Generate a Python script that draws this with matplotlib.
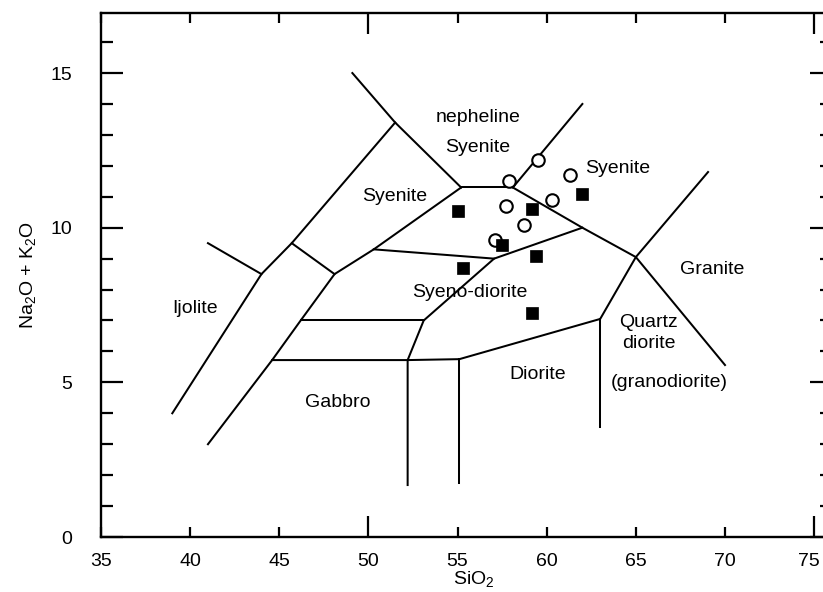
import matplotlib
matplotlib.use("Agg")
import matplotlib.pyplot as plt
from matplotlib.ticker import FixedLocator, FixedFormatter
from matplotlib.transforms import ScaledTranslation

plt.rcParams['font.family'] = ['Liberation Sans', 'DejaVu Sans']
plt.rcParams['mathtext.fontset'] = 'custom'
plt.rcParams['mathtext.rm'] = 'Liberation Sans'
plt.rcParams['mathtext.it'] = 'Liberation Sans:italic'

# Field boundaries of the plutonic TAS classification (SiO2, Na2O+K2O)
boundary_lines = [
    [(49.1, 15.0), (51.5, 13.4), (55.2, 11.3)],
    [(51.5, 13.4), (45.7, 9.5), (44.0, 8.5), (39.0, 4.0)],
    [(41.0, 9.5), (44.0, 8.5)],
    [(45.7, 9.5), (48.1, 8.5)],
    [(55.2, 11.3), (50.3, 9.3), (48.1, 8.5), (46.2, 7.0), (44.6, 5.72), (41.0, 3.0)],
    [(55.2, 11.3), (58.1, 11.3)],
    [(58.1, 11.3), (62.0, 14.0)],
    [(58.1, 11.3), (62.0, 10.0), (65.0, 9.05), (70.0, 5.56)],
    [(50.3, 9.3), (57.05, 9.0), (62.0, 10.0)],
    [(57.05, 9.0), (53.1, 7.0), (52.2, 5.72), (52.2, 1.68)],
    [(46.2, 7.0), (53.1, 7.0)],
    [(44.6, 5.72), (52.2, 5.72), (55.1, 5.75), (63.0, 7.05), (65.0, 9.05), (69.05, 11.8)],
    [(55.1, 5.75), (55.1, 1.75)],
    [(63.0, 7.05), (63.0, 3.55)],
]

# Field names and their positions
field_names = ["nepheline", "Syenite", "Syenite", "Syenite", "Syeno-diorite",
               "Granite", "Quartz", "diorite", "(granodiorite)", "Diorite",
               "Gabbro", "Ijolite"]
field_x = [56.15, 56.15, 64.0, 51.5, 55.7, 69.3, 65.7, 65.75, 66.9, 59.5, 48.3, 40.3]
field_y = [13.55, 12.6, 11.9, 11.0, 7.9, 8.65, 6.95, 6.27, 5.0, 5.24, 4.36, 7.4]

# Samples
circle_sio2 = [59.5, 57.9, 61.3, 57.7, 60.3, 58.7, 57.1]
circle_alk = [12.2, 11.5, 11.7, 10.7, 10.9, 10.1, 9.6]
square_sio2 = [55.0, 59.2, 62.0, 57.5, 59.4, 55.3, 59.2]
square_alk = [10.55, 10.6, 11.1, 9.45, 9.1, 8.7, 7.25]

# Axis ticks
x_major = [50, 75]
x_minor = [35, 40, 45, 55, 60, 65, 70]
y_major = [0, 5, 10, 15]
y_minor = [1, 2, 3, 4, 6, 7, 8, 9, 11, 12, 13, 14, 16]

fig = plt.figure(figsize=(8.23, 5.92), dpi=100)
ax = fig.add_axes([0.1227, 0.0929, 0.8882, 0.8856])
ax.set_xlim(35, 76)
ax.set_ylim(0, 16.95)

for line in boundary_lines:
    xs = [p[0] for p in line]
    ys = [p[1] for p in line]
    ax.plot(xs, ys, color='black', lw=1.45, solid_joinstyle='miter', zorder=2)

for name, x, y in zip(field_names, field_x, field_y):
    ax.text(x, y, name, ha='center', va='center', fontsize=14, zorder=3)

ax.plot(circle_sio2, circle_alk, linestyle='none', marker='o', ms=9,
        mfc='white', mec='black', mew=1.5, zorder=4)
ax.plot(square_sio2, square_alk, linestyle='none', marker='s', ms=8,
        mfc='black', mec='black', mew=0.5, zorder=5)

ax.xaxis.set_major_locator(FixedLocator(x_major))
ax.xaxis.set_major_formatter(FixedFormatter([str(v) for v in x_major]))
ax.xaxis.set_minor_locator(FixedLocator(x_minor))
ax.xaxis.set_minor_formatter(FixedFormatter([str(v) for v in x_minor]))
ax.yaxis.set_major_locator(FixedLocator(y_major))
ax.yaxis.set_major_formatter(FixedFormatter([str(v) for v in y_major]))
ax.yaxis.set_minor_locator(FixedLocator(y_minor))

ax.tick_params(axis='x', which='major', direction='in', length=15, width=1.6,
               top=True, bottom=True, labelsize=14, pad=11.5)
ax.tick_params(axis='x', which='minor', direction='in', length=7.5, width=1.6,
               top=True, bottom=True, labelsize=14, pad=11.5)
ax.tick_params(axis='y', which='major', direction='in', length=16, width=1.6,
               left=True, right=True, labelsize=14, pad=21)
ax.tick_params(axis='y', which='minor', direction='in', length=8.5, width=1.6,
               left=True, right=True)

for s in ax.spines.values():
    s.set_linewidth(1.7)

ax.set_xlabel(r'SiO$_\mathregular{2}$', fontsize=14)
ax.xaxis.set_label_coords(0.51, -0.081)
ax.xaxis.label.set_va('center')
ax.set_ylabel(r'Na$_\mathregular{2}$O + K$_\mathregular{2}$O', fontsize=14)
ax.yaxis.set_label_coords(-0.1, 0.5)
ax.yaxis.label.set_va('center')

# Nudge the last x label inward so it stays inside the figure edge
fig.canvas.draw()
for tick in ax.xaxis.get_major_ticks():
    if tick.get_loc() == 75:
        tick.label1.set_transform(tick.label1.get_transform()
                                  + ScaledTranslation(-3.5 / 72, 0, fig.dpi_scale_trans))

fig.savefig('out.png', dpi=100)
